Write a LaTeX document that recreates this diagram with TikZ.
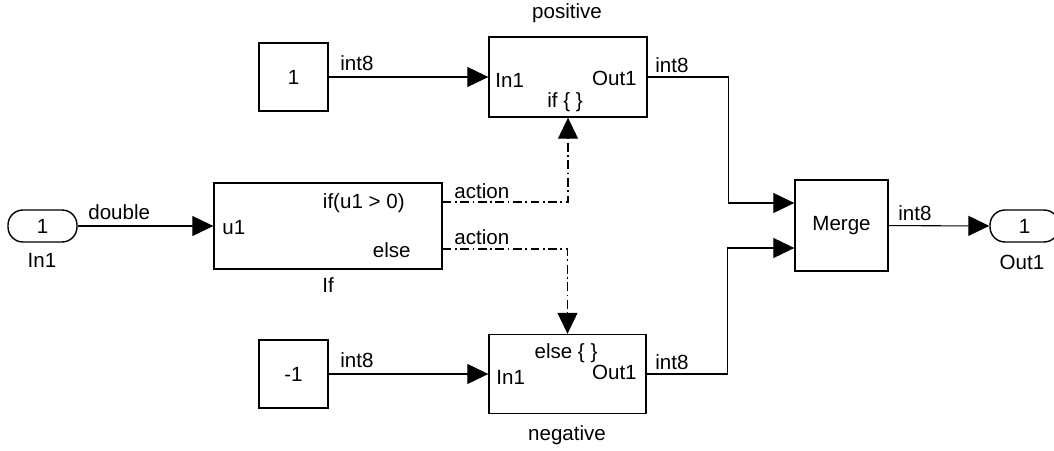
\documentclass[tikz,border=0pt]{standalone}
\usepackage{fontspec}
\setmainfont{Liberation Sans}
\usetikzlibrary{arrows.meta}

\begin{document}
\begin{tikzpicture}[x=0.02cm,y=-0.02cm,
    font=\fontsize{11.7}{14}\selectfont,
    blk/.style={draw,line width=0.8pt,inner sep=0pt},
    term/.style={draw,line width=0.8pt,rounded corners=0.3cm,
      minimum width=1.38cm,minimum height=0.64cm},
    txt/.style={inner sep=0pt},
    sig/.style={inner sep=0pt,anchor=west},
    wire/.style={-{Triangle[length=0.42cm,width=0.4cm]},line width=0.6pt},
    act/.style={wire,dash pattern=on 5pt off 2pt on 1pt off 2pt}]
  \useasboundingbox (0,0) rectangle (1054,450);

  % blocks
  \node (in1) [term] at (42.5,226) {1};
  \node (ifblk) [blk,minimum width=4.56cm,minimum height=1.72cm] at (328,226) {};
  \node (const1) [blk,minimum width=1.38cm,minimum height=1.36cm] at (293.5,77) {1};
  \node (constm1) [blk,minimum width=1.38cm,minimum height=1.36cm] at (293.5,374) {-1};
  \node (pos) [blk,minimum width=3.16cm,minimum height=1.6cm] at (568,77) {};
  \node (neg) [blk,minimum width=3.14cm,minimum height=1.58cm] at (567.5,374) {};
  \node (merge) [blk,minimum width=1.86cm,minimum height=1.82cm] at (841.5,225.5) {Merge};
  \node (out1) [term] at (1024.5,226) {1};

  % block names
  \node (in1name) [txt] at (42,260) {In1};
  \node (ifname) [txt] at (328,285) {If};
  \node (posname) [txt] at (567,13) {positive};
  \node (negname) [txt] at (567,435) {negative};
  \node (out1name) [txt] at (1022,262) {Out1};

  % port labels
  \node (ifu1) [txt,anchor=west] at (222,228) {u1};
  \node (ifthen) [txt,anchor=east] at (405,203) {if(u1 > 0)};
  \node (ifelse) [txt,anchor=east] at (411,250) {else};
  \node (posin) [txt,anchor=west] at (495,80) {In1};
  \node (posout) [txt,anchor=east] at (637,78) {Out1};
  \node (poscond) [txt] at (565,102) {if \{ \}};
  \node (negcond) [txt] at (566,353) {else \{ \}};
  \node (negin) [txt,anchor=west] at (496,377) {In1};
  \node (negout) [txt,anchor=east] at (637,372) {Out1};

  % signal labels
  \node (sdouble) [sig] at (88,212) {double};
  \node (sc1) [sig] at (340,63) {int8};
  \node (sc2) [sig] at (340,360) {int8};
  \node (sp) [sig] at (655,65) {int8};
  \node (sn) [sig] at (655,362) {int8};
  \node (sm) [sig] at (898,213) {int8};
  \node (sa1) [sig] at (454,191) {action};
  \node (sa2) [sig] at (454,237) {action};

  \draw [wire] (in1) -- (ifblk);
  \draw [wire] (const1) -- (pos);
  \draw [wire] (constm1) -- (neg);
  \draw [act] ([yshift=0.48cm]ifblk.east) -| (pos.south);
  \draw [act] ([yshift=-0.46cm]ifblk.east) -| (neg.north);
  \draw [wire] (pos.east) -- ++(81,0) |- ([yshift=0.45cm]merge.west);
  \draw [wire] (neg.east) -- ++(81,0) |- ([yshift=-0.45cm]merge.west);
  \draw [wire] (merge) -- (out1);
\end{tikzpicture}
\end{document}
